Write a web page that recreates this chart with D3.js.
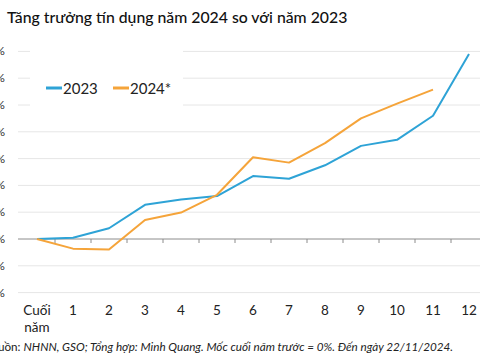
<!DOCTYPE html>
<html><head><meta charset="utf-8">
<script src="https://cdn.jsdelivr.net/npm/d3@7"></script>
<style>
body{margin:0;background:#fff;}
svg{display:block;font-family:Lato,"Noto Sans",sans-serif;}
</style></head>
<body><svg id="c" width="480" height="360"></svg>
<script>
const categories = ["Cuối năm","1","2","3","4","5","6","7","8","9","10","11","12"];
const values2023 = [0,0.1,0.8,2.55,2.95,3.2,4.7,4.5,5.5,6.95,7.4,9.2,13.8];
const values2024 = [0,-0.72,-0.78,1.42,1.97,3.3,6.1,5.7,7.15,9.0,10.1,11.15];
const yTicks = [-4,-2,0,2,4,6,8,10,12,14];
const seriesNames = ["2023","2024*"];
const colors = ["#2ea3d6","#f5a43a"];

const svg = d3.select("#c");
const x = d3.scaleBand().domain(categories).range([19,487]).padding(0);
const y = d3.scaleLinear().domain([-4,14]).range([292.6,51.4]);

// gridlines
svg.append("g").selectAll("line").data(yTicks.filter(d=>d!==0)).join("line")
  .attr("x1",18).attr("x2",480).attr("y1",d=>y(d)).attr("y2",d=>y(d))
  .attr("stroke","#e6e6e6").attr("stroke-width",1);

// y labels (cut by the left edge, as in the reference)
svg.append("g").selectAll("text").data(yTicks).join("text")
  .attr("x",5).attr("y",d=>y(d)+4).attr("text-anchor","end")
  .attr("font-size",12).attr("fill","#333").text(d=>d+"%");

// zero axis with ticks at band boundaries
const zeroY = y(0);
svg.append("line").attr("x1",18).attr("x2",480).attr("y1",zeroY).attr("y2",zeroY)
  .attr("stroke","#8c8c8c").attr("stroke-width",1);
svg.append("g").selectAll("line").data(categories.slice(1)).join("line")
  .attr("x1",d=>x(d)).attr("x2",d=>x(d)).attr("y1",zeroY).attr("y2",zeroY+4)
  .attr("stroke","#8c8c8c").attr("stroke-width",1);

// x labels
const cx = d => x(d)+x.bandwidth()/2;
const xl = svg.append("g").selectAll("text").data(categories).join("text")
  .attr("x",cx).attr("y",315).attr("text-anchor","middle")
  .attr("font-size",13.5).attr("fill","#222");
xl.each(function(d){
  const parts = d.split(" ");
  const t = d3.select(this);
  parts.forEach((p,i)=>t.append("tspan").attr("x",cx(d)).attr("dy",i?17:0).text(p));
});

// lines
const line = d3.line().x((d,i)=>cx(categories[i])).y(d=>y(d));
[values2023, values2024].forEach((vals,i)=>{
  svg.append("path").datum(vals).attr("d",line).attr("fill","none")
    .attr("stroke",colors[i]).attr("stroke-width",2).attr("stroke-linejoin","round");
});

// legend
svg.append("rect").attr("x",30).attr("y",45).attr("width",153).attr("height",65).attr("fill","#fff");
const lg = [{x:46},{x:113}];
seriesNames.forEach((n,i)=>{
  svg.append("line").attr("x1",lg[i].x).attr("x2",lg[i].x+16).attr("y1",88).attr("y2",88)
    .attr("stroke",colors[i]).attr("stroke-width",3);
  svg.append("text").attr("x",lg[i].x+17).attr("y",93.5).attr("font-size",15).attr("fill","#222").text(n);
});

// title
svg.append("text").attr("x",7).attr("y",23).attr("font-size",15.8).attr("font-weight",500)
  .attr("fill","#111").text("Tăng trưởng tín dụng năm 2024 so với năm 2023");

// source
const src = svg.append("text").attr("x",453).attr("y",351).attr("text-anchor","end")
  .attr("font-size",11.7).attr("fill","#222");
src.append("tspan").text("Nguồn: ");
src.append("tspan").attr("font-style","italic").text("NHNN, GSO; Tổng hợp: Minh Quang. Mốc cuối năm trước = 0%. Đến ngày 22/11/2024.");
</script></body></html>
